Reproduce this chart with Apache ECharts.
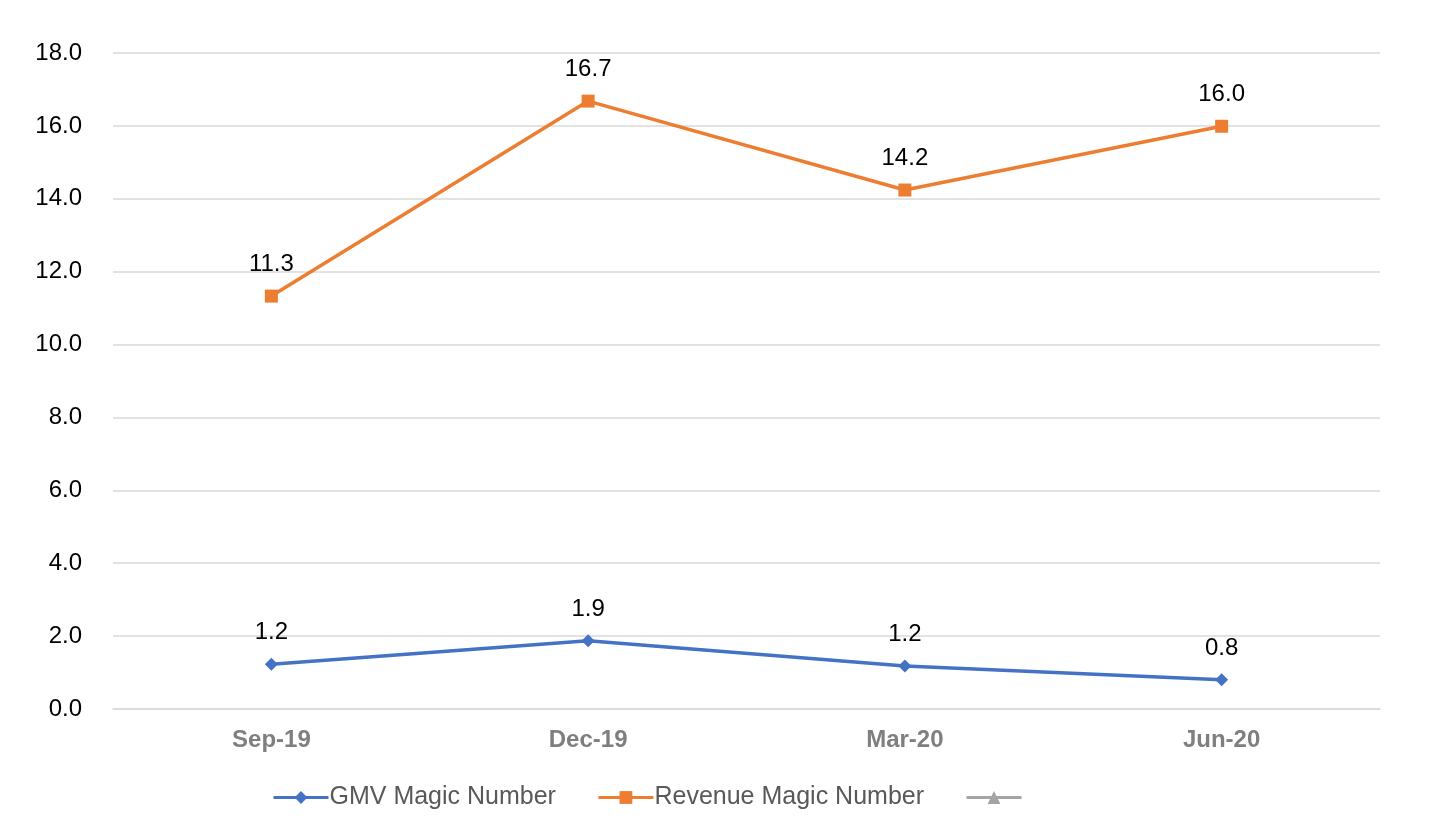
<!DOCTYPE html>
<html>
<head>
<meta charset="utf-8">
<script src="https://cdn.jsdelivr.net/npm/echarts@6/dist/echarts.min.js"></script>
<style>
  html, body { margin: 0; padding: 0; background: #fff; }
  #main { width: 1456px; height: 824px; }
</style>
</head>
<body>
<div id="main"></div>
<script>
var categories = ["Sep-19", "Dec-19", "Mar-20", "Jun-20"];
var gmvMagic = [1.23, 1.87, 1.18, 0.8];
var revenueMagic = [11.33, 16.68, 14.24, 15.99];
var thirdSeries = [null, null, null, null];

var chart = echarts.init(document.getElementById("main"));
var labelStyle = {
  show: true,
  position: "top",
  distance: 13,
  color: "#000",
  fontSize: 24,
  fontFamily: "Liberation Sans, Arial, sans-serif",
  formatter: function (p) { return p.value.toFixed(1); }
};

chart.setOption({
  animation: false,
  textStyle: { fontFamily: "Liberation Sans, Arial, sans-serif" },
  grid: { left: 113, right: 76, top: 53, bottom: 115 },
  legend: {
    left: 272,
    top: 785,
    padding: 0,
    itemWidth: 55,
    itemHeight: 16,
    itemGap: 41,
    lineStyle: { width: 3 },
    textStyle: { color: "#595959", fontSize: 25, padding: [0, 0, 0, -4] },
    data: ["GMV Magic Number", "Revenue Magic Number", " "]
  },
  xAxis: {
    type: "category",
    data: categories,
    axisLine: { lineStyle: { color: "#d9d9d9", width: 1.5 } },
    axisTick: { show: false },
    axisLabel: { color: "#7f7f7f", fontSize: 24, fontWeight: "bold", margin: 19 }
  },
  yAxis: {
    type: "value",
    min: 0,
    max: 18,
    interval: 2,
    axisLine: { show: false },
    axisTick: { show: false },
    splitLine: { lineStyle: { color: "#d9d9d9", width: 1.5 } },
    axisLabel: {
      color: "#000",
      fontSize: 24,
      margin: 31,
      formatter: function (v) { return v.toFixed(1); }
    }
  },
  series: [
    {
      name: "GMV Magic Number",
      type: "line",
      data: gmvMagic,
      color: "#4472C4",
      symbol: "diamond",
      symbolSize: 13,
      lineStyle: { width: 3.5 },
      label: labelStyle
    },
    {
      name: "Revenue Magic Number",
      type: "line",
      data: revenueMagic,
      color: "#ED7D31",
      symbol: "rect",
      symbolSize: 13,
      lineStyle: { width: 3.5 },
      label: labelStyle
    },
    {
      name: " ",
      type: "line",
      data: thirdSeries,
      color: "#A5A5A5",
      symbol: "triangle",
      symbolSize: 13,
      lineStyle: { width: 3.5 }
    }
  ]
});
</script>
</body>
</html>
